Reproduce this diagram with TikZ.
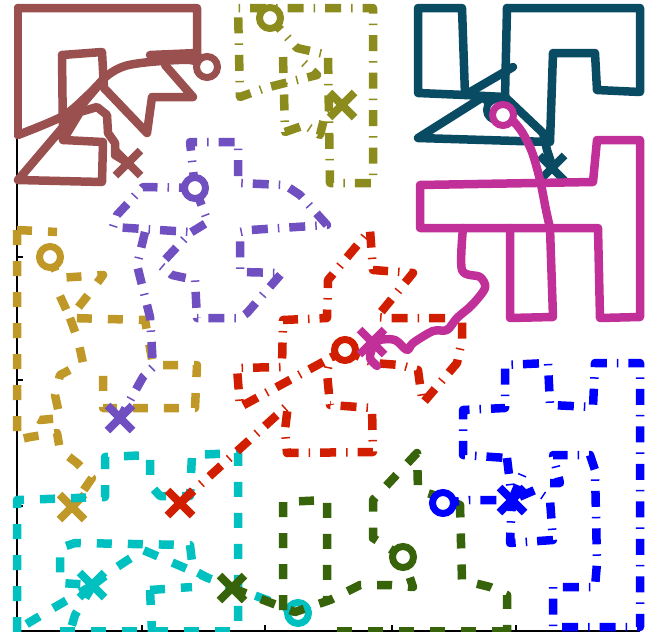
\documentclass[tikz,border=0pt]{standalone}
\definecolor{cbrown}{RGB}{155,80,80}
\definecolor{colive}{RGB}{140,140,30}
\definecolor{cteal}{RGB}{10,75,100}
\definecolor{cmag}{RGB}{192,48,152}
\definecolor{cpurp}{RGB}{112,80,192}
\definecolor{cgold}{RGB}{192,152,40}
\definecolor{cred}{RGB}{210,30,0}
\definecolor{ccyan}{RGB}{0,192,192}
\definecolor{cgreen}{RGB}{55,100,10}
\definecolor{cblue}{RGB}{0,0,255}
\tikzset{
  agent/.style={line width=8.5pt, line join=round},
  solidp/.style={agent, line cap=round},
  dashp/.style={agent, dash pattern=on 15pt off 16pt},
  dotdashp/.style={agent, dash pattern=on 16pt off 10pt on 1.5pt off 10pt},
  spine/.style={line width=1.4pt, black},
}
\newcommand{\ringmark}[2]{\draw[line width=7pt, draw=#1, fill=white] (#2) circle (10.5);}
\newcommand{\crossmark}[2]{\draw[line width=8pt, draw=#1] ($(#2)+(-12.5,-12.5)$) -- ($(#2)+(12.5,12.5)$) ($(#2)+(-12.5,12.5)$) -- ($(#2)+(12.5,-12.5)$);}
\usetikzlibrary{calc}
\begin{document}
\begin{tikzpicture}[x=1pt,y=-1pt]
\useasboundingbox (0,0) rectangle (646,632);
% axes
\draw[spine] (17,5) -- (17,632);
\draw[spine] (17,631) -- (640,631);
\foreach \t in {132,257,380,506} \draw[spine] (17,\t) -- (23,\t);
\foreach \t in {142,265,392,516} \draw[spine] (\t,631) -- (\t,625);

% gold
\begin{scope}[cgold]
\draw[dashp] (50,257) -- (58,278) -- (103,275) -- (92,290) -- (70,318);
\draw[dashp] (60,296) -- (70,318) -- (145,320) -- (153,365) -- (197,365) -- (195,408) -- (103,408) -- (103,365);
\draw[dashp] (70,318) -- (78,340) -- (83,363) -- (60,375) -- (55,395) -- (60,418) -- (40,420) -- (25,412);
\draw[dashp] (17,230) -- (57,232);
\draw[dashp] (17,230) -- (17,440) -- (30,437) -- (57,433) -- (60,450) -- (77,463) -- (92,478) -- (72,507);
\ringmark{cgold}{50,257}
\crossmark{cgold}{72,507}
\end{scope}

% cyan
\begin{scope}[ccyan]
\draw[dashp] (17,632) -- (17,500) -- (105,497) -- (105,457) -- (150,455) -- (150,485) -- (160,496) -- (190,496) -- (192,455) -- (238,453) -- (238,632);
\draw[dashp] (298,613) -- (267,600) -- (208,578) -- (193,570) -- (190,545) -- (75,543) -- (60,548) -- (60,583) -- (93,585);
\draw[dashp] (93,585) -- (117,567) -- (143,550) -- (185,568) -- (208,578);
\draw[dashp] (93,585) -- (50,610) -- (20,628);
\draw[dashp] (93,585) -- (75,615) -- (70,632);
\draw[dashp] (150,590) -- (192,587);
\draw[dashp] (150,590) -- (152,632);
\draw[dashp] (60,631) -- (238,631);
\ringmark{ccyan}{298,613}
\crossmark{ccyan}{92,585}
\end{scope}

% brown
\begin{scope}[cbrown]
\draw[solidp] (18,8) -- (197,8) -- (197,53) -- (150,55);
\draw[solidp] (197,55) -- (207,67);
\draw[solidp] (18,8) -- (18,135);
\draw[solidp] plot[smooth] coordinates {(18,135) (63,116) (88,95) (108,75) (125,66) (150,62) (190,60) (207,67)};
\draw[solidp] (62,55) -- (102,52) -- (104,88) -- (147,133) -- (152,97) -- (193,97) -- (165,65);
\draw[solidp] (62,55) -- (63,140) -- (103,142) -- (102,182) -- (18,180) -- (103,80);
\draw[solidp] (63,140) -- (80,112) -- (97,107) -- (107,115) -- (108,133) -- (115,143) -- (115,155) -- (128,163);
\ringmark{cbrown}{207,67}
\crossmark{cbrown}{128,163}
\end{scope}

% olive
\begin{scope}[colive]
\draw[dotdashp] (270,18) -- (297,48) -- (328,55) -- (330,183) -- (373,183) -- (373,8) -- (238,8) -- (240,97) -- (265,88) -- (317,75) -- (303,62);
\draw[dotdashp] (283,57) -- (285,132) -- (305,125) -- (320,135) -- (325,115) -- (342,105);
\ringmark{colive}{270,18}
\crossmark{colive}{342,105}
\end{scope}

% teal
\begin{scope}[cteal]
\draw[solidp] (418,8) -- (462,8) -- (465,95) -- (418,93) -- cycle;
\draw[solidp] (465,95) -- (513,67);
\draw[solidp] (465,95) -- (505,97);
\draw[solidp] (507,8) -- (505,97);
\draw[solidp] (507,8) -- (640,8) -- (640,92) -- (597,90) -- (595,53) -- (553,53) -- (550,142) -- (418,138) -- (483,97) -- (497,110);
\draw[solidp] (505,97) -- (543,133) -- (547,150) -- (553,168);
\ringmark{cteal}{497,110}
\crossmark{cteal}{552,168}
\end{scope}

% purple
\begin{scope}[cpurp]
\draw[dotdashp] (195,188) -- (190,142) -- (238,142) -- (238,183) -- (285,185) -- (300,195) -- (327,225) -- (250,230) -- (240,232) -- (240,272) -- (282,273) -- (247,313) -- (240,318) -- (197,318) -- (195,280) -- (172,275) -- (160,265) -- (190,233) -- (208,222) -- (195,188);
\draw[dotdashp] (195,188) -- (143,187) -- (117,215) -- (113,227) -- (190,232);
\draw[dotdashp] (145,232) -- (137,265) -- (142,285) -- (150,317) -- (153,367) -- (143,377) -- (120,418);
\ringmark{cpurp}{195,188}
\crossmark{cpurp}{120,418}
\end{scope}

% red
\begin{scope}[cred]
\draw[dotdashp] (345,350) -- (373,363) -- (400,365) -- (418,370) -- (420,385) -- (423,403) -- (457,363) -- (462,340) -- (462,318) -- (390,318) -- (377,317) -- (413,273) -- (373,270) -- (370,230) -- (328,280) -- (327,318) -- (283,320) -- (282,367) -- (237,368) -- (240,407) -- (345,350);
\draw[dotdashp] (345,350) -- (330,358) -- (327,373) -- (330,405) -- (372,408) -- (373,452) -- (287,453) -- (285,430) -- (288,405) -- (180,503);
\ringmark{cred}{345,350}
\crossmark{cred}{180,503}
\end{scope}

% magenta
\begin{scope}[cmag]
\draw[solidp] (420,185) -- (593,182) -- (597,140) -- (640,140) -- (640,317) -- (600,318) -- (598,228) -- (420,228) -- cycle;
\draw[solidp] (510,228) -- (510,318) -- (553,317) -- (550,228);
\draw[solidp] plot[smooth] coordinates {(503,115) (512,120) (522,132) (532,152) (540,180) (546,210) (550,228)};
\draw[solidp] plot[smooth] coordinates {(463,228) (462,270) (480,277) (485,288) (472,305) (457,318) (447,330) (433,331) (413,343) (407,350) (395,340) (380,340) (373,347) (370,358) (377,366)};
\ringmark{cmag}{503,115}
\crossmark{cmag}{372,342}
\end{scope}

% green
\begin{scope}[cgreen]
\draw[dashp] (232,588) -- (295,612) -- (330,600) -- (360,585) -- (390,585) -- (413,587) -- (403,557);
\draw[dashp] (403,557) -- (373,538) -- (373,500) -- (417,453) -- (418,490) -- (440,497) -- (460,505) -- (462,580) -- (490,587) -- (507,595) -- (507,632);
\draw[dashp] (337,631) -- (507,631);
\draw[dashp] (283,610) -- (283,502) -- (327,500) -- (327,600);
\ringmark{cgreen}{403,557}
\crossmark{cgreen}{232,588}
\end{scope}

% blue
\begin{scope}[cblue]
\draw[dotdashp] (443,503) -- (470,500) -- (512,500);
\draw[dotdashp] (507,458) -- (512,500) -- (510,543) -- (553,540) -- (550,500) -- (535,490) -- (512,500);
\draw[dotdashp] (512,500) -- (523,473);
\draw[dotdashp] (550,483) -- (560,483) -- (553,455) -- (590,455) -- (595,470) -- (597,563) -- (595,587) -- (553,587) -- (553,627) -- (640,627) -- (640,363) -- (595,363) -- (593,407) -- (550,405) -- (548,363) -- (505,365) -- (505,408) -- (463,410) -- (463,455) -- (507,458);
\ringmark{cblue}{443,503}
\crossmark{cblue}{512,500}
\end{scope}
\end{tikzpicture}
\end{document}
